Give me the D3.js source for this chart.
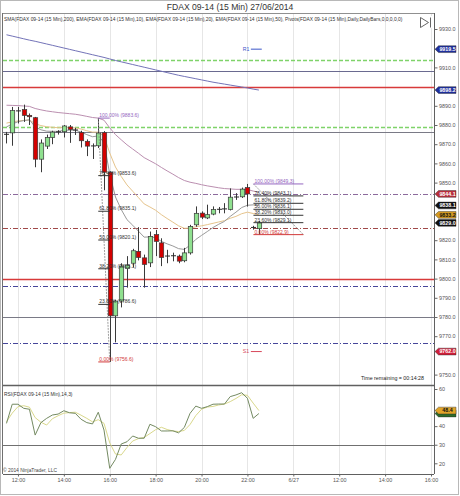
<!DOCTYPE html>
<html><head><meta charset="utf-8">
<script src="https://cdn.jsdelivr.net/npm/d3@7"></script>
<style>
html,body{margin:0;padding:0;background:#fff;}
svg{display:block;font-family:"Liberation Sans",Arial,sans-serif;}
</style></head><body>
<svg id="chart" width="460" height="496"></svg>
<script>
// ---- 15-minute FDAX bars (bar 1 = 11:30) ----
const opens  = [9875.3,9875.9,9887.5,9888.0,9885.0,9883.8,9862.2,9869.0,9873.5,9876.3,9876.5,9879.0,9877.6,9876.1,9871.5,9869.0,9869.2,9876.0,9855.4,9780.6,9788.3,9805.2,9808.0,9814.2,9810.8,9808.2,9822.9,9818.6,9811.5,9812.0,9811.7,9809.3,9813.4,9828.0,9834.1,9831.6,9833.6,9836.0,9836.2,9836.0,9842.4,9842.6,9847.4,9826.5,9826.0];
const highs  = [9876.4,9889.4,9889.4,9890.6,9886.0,9884.2,9872.5,9875.0,9877.0,9877.3,9880.0,9880.0,9878.5,9877.0,9872.5,9870.4,9883.6,9876.8,9855.8,9789.0,9808.0,9811.7,9815.5,9826.8,9812.5,9824.5,9825.3,9821.0,9815.0,9813.5,9812.5,9816.0,9828.0,9837.6,9835.0,9838.5,9837.6,9837.3,9839.3,9847.0,9844.5,9847.4,9849.3,9827.5,9830.0];
const lows   = [9870.4,9869.2,9880.8,9881.6,9880.0,9858.0,9855.4,9867.5,9870.0,9875.0,9873.5,9870.7,9874.8,9868.3,9863.8,9862.3,9868.0,9846.0,9756.6,9766.8,9785.0,9795.3,9806.0,9809.5,9795.3,9806.0,9811.7,9806.5,9808.0,9809.0,9808.0,9808.5,9812.5,9827.0,9831.0,9831.0,9833.0,9834.0,9834.0,9835.5,9841.0,9842.0,9837.5,9825.5,9822.9];
const closes = [9875.0,9887.5,9887.2,9885.0,9884.3,9862.2,9870.6,9873.5,9876.3,9876.6,9879.5,9877.7,9877.2,9871.8,9869.0,9869.2,9875.8,9855.4,9780.6,9788.3,9806.5,9807.0,9814.5,9811.0,9807.4,9822.0,9819.4,9811.0,9812.0,9811.8,9809.1,9813.4,9827.2,9834.0,9832.0,9833.3,9836.0,9836.2,9836.4,9842.4,9842.6,9846.6,9844.1,9826.8,9829.0];

// ---- moving averages ----
const sma200 = [9927.0,9926.3,9925.6,9924.9,9924.2,9923.6,9922.9,9922.2,9921.5,9920.8,9920.1,9919.4,9918.7,9918.0,9917.3,9916.6,9915.9,9915.2,9914.4,9913.6,9912.9,9912.2,9911.5,9910.8,9910.1,9909.4,9908.7,9908.0,9907.3,9906.6,9905.9,9905.3,9904.7,9904.1,9903.5,9902.9,9902.3,9901.8,9901.3,9900.8,9900.3,9899.8,9899.3,9898.7,9898.2];
const ema10  = [9879.0,9880.5,9881.7,9882.3,9882.7,9879.0,9877.5,9876.8,9876.7,9876.7,9877.2,9877.3,9877.3,9876.3,9875.0,9873.9,9874.3,9870.9,9854.5,9842.5,9836.0,9830.7,9827.8,9824.7,9821.6,9821.7,9821.3,9819.4,9818.1,9817.0,9815.6,9815.2,9817.4,9820.4,9822.5,9824.5,9826.6,9828.3,9829.8,9832.4,9834.6,9837.0,9838.2,9838.4,9838.1];
const ema20  = [9881.0,9881.6,9882.1,9882.4,9882.6,9880.7,9879.7,9879.1,9878.8,9878.6,9878.7,9878.6,9878.5,9877.9,9877.0,9876.3,9876.3,9874.3,9865.4,9858.1,9853.2,9848.8,9845.5,9842.2,9838.9,9837.3,9835.6,9833.3,9831.3,9829.4,9827.5,9826.2,9826.3,9827.0,9827.5,9828.1,9828.8,9829.5,9830.2,9831.4,9832.4,9833.8,9834.6,9833.9,9833.2];
const ema50  = [9890.3,9890.2,9890.1,9889.9,9889.7,9888.6,9887.9,9887.3,9886.9,9886.5,9886.2,9885.9,9885.6,9885.1,9884.5,9883.9,9883.6,9882.5,9878.5,9875.0,9872.3,9869.7,9867.5,9865.3,9863.0,9861.4,9859.8,9857.9,9856.1,9854.4,9852.6,9851.1,9850.2,9849.6,9848.9,9848.3,9847.8,9847.3,9846.9,9846.7,9846.5,9846.5,9846.4,9845.6,9845.0];

// ---- RSI(14,3) ----
const rsi    = [41.5,51.8,51.8,49.6,49.1,35.2,41.9,44.2,46.0,46.5,48.3,47.2,46.9,43.7,41.9,41.2,47.5,37.9,17.3,22.1,30.4,31.6,34.7,33.5,33.5,41.0,39.7,37.4,37.4,37.5,36.4,39.3,46.9,50.8,49.6,50.5,51.8,51.9,51.9,55.9,56.8,58.0,55.0,44.2,46.8];
const rsiAvg = [42.4,47.0,50.5,51.0,50.2,44.6,42.1,40.6,44.0,45.6,47.0,47.3,47.5,45.9,44.2,42.3,43.5,41.5,31.0,25.0,24.5,28.5,32.0,33.3,33.9,36.0,38.1,39.4,38.2,37.4,37.1,37.7,40.9,45.7,49.1,50.3,50.6,51.4,51.9,53.2,54.9,56.9,56.6,52.4,48.4];

// ---- horizontal price levels ----
const levelPrices = [9914.0, 9907.9, 9900.0, 9878.8, 9876.1, 9844.1, 9826.5, 9800.0, 9796.1, 9780.2, 9766.4];
const levelKinds  = ["green","slate","red","green","gray","priorClose","open","red","blue","gray","blue"];

// ---- daily pivots ----
const pivotNames  = ["R1","S1"];
const pivotPrices = [9919.5, 9762.0];

// ---- Fibonacci retracements ----
const fibRatios = [1, 0.764, 0.618, 0.5, 0.382, 0.236, 0];
const fibHighs  = [9883.6, 9849.3];
const fibLows   = [9756.6, 9822.9];
const fibStart  = [17, 44.05];   // bar slots of the anchors
const fibEnd    = [19, 52.75];

// ---- axes ----
const tickSlots  = [3, 11, 19, 27, 35, 43, 51, 59, 67, 75];
const tickLabels = ["12:00","14:00","16:00","18:00","20:00","22:00","6/27","12:00","14:00","16:00"];
const priceTicks = [9750,9760,9770,9780,9790,9800,9810,9820,9830,9840,9850,9860,9870,9880,9890,9900,9910,9920,9930];
const rsiTicks   = [20, 30, 40, 50, 60];
const rsiLevel   = 30;

// ---------------------------------------------------------------
const svg = d3.select("#chart");
const L = 3, R = 434, mainTop = 13, mainBot = 385, rsiBot = 474;

const x  = d3.scaleLinear().domain([0, 75]).range([0.75, 431]);
const y  = d3.scaleLinear().domain([9750, 9930]).range([374.6, 29.0]);
const yr = d3.scaleLinear().domain([20, 60]).range([463.3, 389]);

const fmtPct = d3.format(".2f"), fmtP = d3.format(".1f");
const last = closes.length - 1;

// value tags shown on the price / RSI scales
const priceTags = [
  {v: pivotPrices[0],   fill:"#1f2f9c", color:"#fff"},
  {v: sma200[last],     fill:"#1f2f9c", color:"#fff"},
  {v: levelPrices[5],   fill:"#b8303c", color:"#fff"},
  {v: ema10[last],      fill:"#111",    color:"#fff"},
  {v: ema20[last],      fill:"#d39a22", color:"#111"},
  {v: closes[last],     fill:"#111",    color:"#fff"},
  {v: pivotPrices[1],   fill:"#d0203a", color:"#fff"}
];
const rsiTags = [
  {v: rsi[last],    fill:"#2f6a2a", color:null},
  {v: rsiAvg[last], fill:"#e0a428", color:"#111"}
];

const defs = svg.append("defs");
defs.append("clipPath").attr("id","clipMain").append("rect")
  .attr("x", L).attr("y", mainTop).attr("width", R-L).attr("height", mainBot-mainTop);
defs.append("clipPath").attr("id","clipRsi").append("rect")
  .attr("x", L).attr("y", mainBot).attr("width", R-L).attr("height", rsiBot-mainBot);

// outer frame
svg.append("rect").attr("x",0.5).attr("y",0.5).attr("width",458).attr("height",494)
  .attr("fill","none").attr("stroke","#b8b8b8");

// title
svg.append("text").attr("x",230).attr("y",9.5).attr("text-anchor","middle")
  .attr("font-size",8.6).attr("fill","#333").text("FDAX 09-14 (15 Min)  27/06/2014");

// vertical grid
const grid = svg.append("g");
tickSlots.forEach(s => {
  const gx = Math.round(x(s)) + 0.5;
  grid.append("line").attr("x1",gx).attr("x2",gx).attr("y1",mainTop).attr("y2",rsiBot)
    .attr("stroke","#e6e6e6").attr("stroke-width",1);
});

const main = svg.append("g").attr("clip-path","url(#clipMain)");

// horizontal levels
const levelStyle = {
  green:      {stroke:"#7fd36a", w:1.4, dash:"4,2"},
  slate:      {stroke:"#6a6a90", w:1.1, dash:null},
  red:        {stroke:"#d83a3a", w:1.3, dash:null},
  gray:       {stroke:"#7a7a86", w:1.1, dash:null},
  priorClose: {stroke:"#8c6a9c", w:1,   dash:"5,2,1,2"},
  open:       {stroke:"#a04848", w:1,   dash:"5,2,1,2"},
  blue:       {stroke:"#46469a", w:1.1, dash:"5,2,1,2"}
};
levelPrices.forEach((p, k) => {
  const st = levelStyle[levelKinds[k]];
  const ly = Math.round(y(p)) + 0.5;
  main.append("line").attr("x1",L).attr("x2",R).attr("y1",ly).attr("y2",ly)
    .attr("stroke",st.stroke).attr("stroke-width",st.w)
    .attr("stroke-dasharray",st.dash);
});

// moving averages
const idx = closes.map((_, i) => i);
function maLine(vals, color, w) {
  main.append("path")
    .datum(vals)
    .attr("fill","none").attr("stroke",color).attr("stroke-width",w)
    .attr("d", d3.line().x((d,i) => x(i+1)).y(d => y(d)));
}
maLine(sma200, "#7373b8", 1);
maLine(ema50,  "#bb8fb0", 1);
maLine(ema20,  "#e6c48c", 1);
maLine(ema10,  "#9a9a9a", 1);

// candles
const cg = main.append("g");
idx.forEach(i => {
  const cx = Math.round(x(i+1)) + 0.5;
  const o = opens[i], c = closes[i];
  cg.append("line").attr("x1",cx).attr("x2",cx)
    .attr("y1",y(highs[i])).attr("y2",y(lows[i]))
    .attr("stroke","#3a3a3a").attr("stroke-width",1);
  const top = y(Math.max(o,c)), bot = y(Math.min(o,c));
  if (bot - top < 1.2) {
    cg.append("line").attr("x1",cx-2.5).attr("x2",cx+2.5)
      .attr("y1",(top+bot)/2).attr("y2",(top+bot)/2)
      .attr("stroke","#2a2a2a").attr("stroke-width",1);
  } else {
    cg.append("rect").attr("x",cx-2.2).attr("y",top).attr("width",4.4).attr("height",bot-top)
      .attr("fill", c >= o ? "#8fe08f" : "#d40000")
      .attr("stroke","#3a3a3a").attr("stroke-width",0.7);
  }
});

// pivots for the current session
const pvColor = {R1:"#3a55c8", S1:"#d8485a"};
pivotNames.forEach((n, k) => {
  const py = y(pivotPrices[k]);
  main.append("text").attr("x",x(43.6)-8).attr("y",py+1.8).attr("font-size",5.2)
    .attr("fill",pvColor[n]).text(n);
  main.append("line").attr("x1",x(43.6)).attr("x2",x(45.5)).attr("y1",py).attr("y2",py)
    .attr("stroke",pvColor[n]).attr("stroke-width",1);
});

// Fibonacci retracements
fibHighs.forEach((hi, k) => {
  const lo = fibLows[k];
  const x0 = x(fibStart[k]), x1 = x(fibEnd[k]);
  main.append("line").attr("x1",x0).attr("x2",x1).attr("y1",y(hi)).attr("y2",y(lo))
    .attr("stroke","#888").attr("stroke-width",0.8).attr("stroke-dasharray","2,1");
  fibRatios.forEach(r => {
    const v = lo + r*(hi-lo);
    const col = r === 1 ? "#9466c0" : (r === 0 ? "#d23a3a" : "#333");
    const fy = y(v);
    main.append("line").attr("x1",x0).attr("x2",x1).attr("y1",fy).attr("y2",fy)
      .attr("stroke",col).attr("stroke-width",1);
    main.append("text").attr("x",x0+1).attr("y",fy-1).attr("font-size",5)
      .attr("fill",col).text(fmtPct(r*100) + "% (" + fmtP(v) + ")");
  });
});

// RSI panel
const rg = svg.append("g").attr("clip-path","url(#clipRsi)");
rg.append("line").attr("x1",L).attr("x2",R).attr("y1",Math.round(yr(rsiLevel))+0.5).attr("y2",Math.round(yr(rsiLevel))+0.5)
  .attr("stroke","#707070").attr("stroke-width",1.2);
rg.append("path").datum(rsiAvg).attr("fill","none").attr("stroke","#d9d88c").attr("stroke-width",1)
  .attr("d", d3.line().x((d,i)=>x(i+1)).y(d=>yr(d)));
rg.append("path").datum(rsi).attr("fill","none").attr("stroke","#748a62").attr("stroke-width",1)
  .attr("d", d3.line().x((d,i)=>x(i+1)).y(d=>yr(d)));

// panel borders
svg.append("line").attr("x1",2.5).attr("x2",2.5).attr("y1",mainTop).attr("y2",rsiBot).attr("stroke","#707070");
svg.append("line").attr("x1",L).attr("x2",R).attr("y1",mainTop+0.5).attr("y2",mainTop+0.5).attr("stroke","#909090");
svg.append("line").attr("x1",L).attr("x2",R).attr("y1",mainBot+0.5).attr("y2",mainBot+0.5).attr("stroke","#606060").attr("stroke-width",1.4);
svg.append("line").attr("x1",R+0.5).attr("x2",R+0.5).attr("y1",mainTop).attr("y2",rsiBot).attr("stroke","#606060");
svg.append("line").attr("x1",L).attr("x2",R).attr("y1",rsiBot+0.5).attr("y2",rsiBot+0.5).attr("stroke","#606060");

// scale ticks that a value tag would cover are left out
const freeOf = (tags, sc) => t => tags.every(g => Math.abs(sc(t) - sc(g.v)) > 6);

// price axis
const pa = svg.append("g").attr("transform",`translate(${R+0.5},0)`);
pa.call(d3.axisRight(y).tickValues(priceTicks.filter(freeOf(priceTags, y)))
  .tickFormat(d3.format(".1f")).tickSize(3).tickPadding(1.5));
pa.select(".domain").remove();
pa.selectAll("line").attr("stroke","#666");
pa.selectAll("text").attr("font-size",5.4).attr("fill","#555").attr("font-family","Liberation Sans, Arial, sans-serif");

// RSI axis
const ra = svg.append("g").attr("transform",`translate(${R+0.5},0)`);
ra.call(d3.axisRight(yr).tickValues(rsiTicks.filter(freeOf(rsiTags, yr))).tickSize(3).tickPadding(1.5));
ra.select(".domain").remove();
ra.selectAll("line").attr("stroke","#666");
ra.selectAll("text").attr("font-size",5.4).attr("fill","#555").attr("font-family","Liberation Sans, Arial, sans-serif");

// time axis
const ta = svg.append("g").attr("transform",`translate(0,${rsiBot+0.5})`);
ta.call(d3.axisBottom(x).tickValues(tickSlots).tickFormat((d,i)=>tickLabels[i]).tickSize(2).tickPadding(2));
ta.select(".domain").remove();
ta.selectAll("line").attr("stroke","#666");
ta.selectAll("text").attr("font-size",5.4).attr("fill","#555").attr("font-family","Liberation Sans, Arial, sans-serif");

// value tags
function tag(ty, label, fill, color) {
  const x0 = R + 1, h = 3.4;
  svg.append("path")
    .attr("d", `M${x0},${ty} L${x0+3.5},${ty-h} L${x0+21},${ty-h} L${x0+21},${ty+h} L${x0+3.5},${ty+h} Z`)
    .attr("fill", fill).attr("stroke","#222").attr("stroke-width",0.4);
  if (color) {
    svg.append("text").attr("x",x0+12.5).attr("y",ty+1.9).attr("text-anchor","middle")
      .attr("font-size",5.3).attr("font-weight","bold").attr("fill",color).text(label);
  }
}
priceTags.forEach(g => tag(y(g.v), fmtP(g.v), g.fill, g.color));
// the RSI tag sits under the average's tag, only its edge shows
rsiTags.forEach(g => tag(yr(g.v), fmtP(g.v), g.fill, g.color));

// captions
svg.append("text").attr("x",4).attr("y",20.5).attr("font-size",4.9).attr("fill","#333")
  .text("SMA(FDAX 09-14 (15 Min),200), EMA(FDAX 09-14 (15 Min),10), EMA(FDAX 09-14 (15 Min),20), EMA(FDAX 09-14 (15 Min),50), Pivots(FDAX 09-14 (15 Min),Daily,DailyBars,0,0,0,0,0)");
// panel toggle button
svg.append("rect").attr("x",419).attr("y",16).attr("width",13).attr("height",12).attr("fill","#fff");
svg.append("path").attr("d","M420.5,17.5 L420.5,27.5 L428.5,22.5 Z").attr("fill","#fff").attr("stroke","#555").attr("stroke-width",0.9);
svg.append("line").attr("x1",430.5).attr("x2",430.5).attr("y1",17.5).attr("y2",27.5).attr("stroke","#555").attr("stroke-width",0.9);

svg.append("text").attr("x",424).attr("y",380).attr("text-anchor","end").attr("font-size",5.3).attr("fill","#222")
  .text("Time remaining = 00:14:28");
svg.append("text").attr("x",4).attr("y",395.5).attr("font-size",4.9).attr("fill","#333")
  .text("RSI(FDAX 09-14 (15 Min),14,3)");
svg.append("text").attr("x",3).attr("y",472).attr("font-size",4.9).attr("fill","#444")
  .text("© 2014 NinjaTrader, LLC");
</script>
</body></html>
